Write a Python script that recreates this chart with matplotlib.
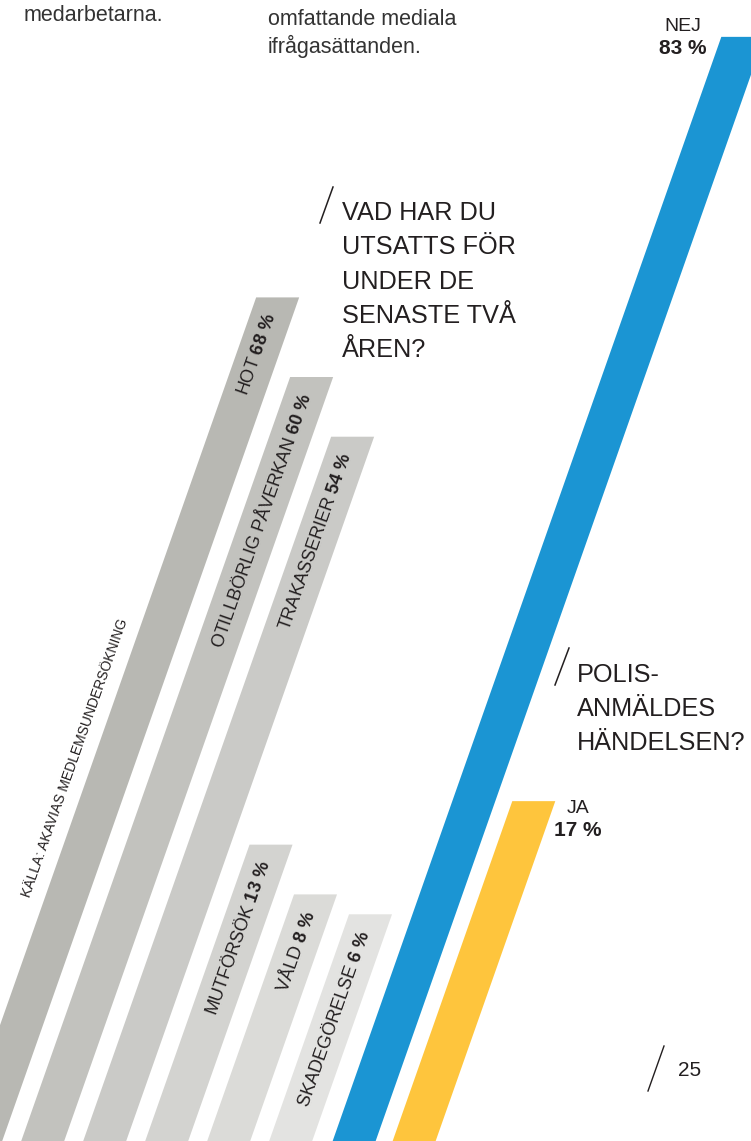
import numpy as np
import matplotlib.pyplot as plt
from matplotlib.transforms import Affine2D

plt.rcParams['font.family'] = ['Liberation Sans', 'DejaVu Sans']
plt.rcParams['mathtext.fontset'] = 'custom'
plt.rcParams['mathtext.rm'] = 'Liberation Sans'
plt.rcParams['mathtext.bf'] = 'Liberation Sans:bold'

# data
incident_types = ['HOT', 'OTILLBÖRLIG PÅVERKAN', 'TRAKASSERIER',
                  'MUTFÖRSÖK', 'VÅLD', 'SKADEGÖRELSE']
incident_pct = [68, 60, 54, 13, 8, 6]
report_answers = ['NEJ', 'JA']
report_pct = [83, 17]

title_1 = ['VAD HAR DU', 'UTSATTS FÖR', 'UNDER DE', 'SENASTE TVÅ', 'ÅREN?']
title_2 = ['POLIS-', 'ANMÄLDES', 'HÄNDELSEN?']
source = 'KÄLLA: AKAVIAS MEDLEMSUNDERSÖKNING'

grays = ['#b8b8b3', '#c2c2be', '#cacac7', '#d3d3d0', '#dbdbd8', '#e3e3e1']
report_colors = ['#1b95d3', '#fec53d']
TXT = '#231f20'

W, H = 751, 1141
SLANT = 0.352  # px sideways per px upwards
ANG = np.degrees(np.arctan2(1, SLANT))

fig = plt.figure(figsize=(W / 100, H / 100), dpi=100)

# page axes in pixel units for the free text
page = fig.add_axes([0, 0, 1, 1])
page.set_xlim(0, W)
page.set_ylim(H, 0)
page.axis('off')


def chart_axes(base_px, px_per_pct):
    # value axis in %, x in pixels, bars leaning by a skew
    ax = fig.add_axes([0, 0, 1, 1])
    ax.set_xlim(0, W)
    ax.set_ylim((base_px - H) / px_per_pct, base_px / px_per_pct)
    ax.axis('off')
    skew = Affine2D().skew(np.arctan(SLANT * px_per_pct), 0)
    return ax, skew + ax.transData


# chart 1: what have you been exposed to
ax1, tr1 = chart_axes(974, 9.95)
lo1 = ax1.get_ylim()[0] - 5
x1 = 18 + 62 * np.arange(len(incident_pct))
ax1.bar(x1, np.array(incident_pct) - lo1, bottom=lo1, width=43,
        align='edge', color=grays, transform=tr1)
for xi, name, v in zip(x1, incident_types, incident_pct):
    ax1.text(xi + 21.5, v - 1.6, name + r' $\mathbf{' + str(v) + r'\ \%}$',
             transform=tr1, rotation=ANG, rotation_mode='anchor',
             ha='right', va='center', fontsize=13, color=TXT)

# chart 2: was it reported to the police
ax2, tr2 = chart_axes(998, 11.58)
lo2 = ax2.get_ylim()[0] - 5
x2 = 383 + 60 * np.arange(len(report_pct))
ax2.bar(x2, np.array(report_pct) - lo2, bottom=lo2, width=43,
        align='edge', color=report_colors, transform=tr2)

# answer labels
for (cx, y0), ans, v in zip([(683, 31), (578, 813)], report_answers, report_pct):
    page.text(cx, y0, ans, ha='center', va='baseline', fontsize=14, color=TXT)
    page.text(cx, y0 + 23, f'{v} %', ha='center', va='baseline',
              fontsize=15, fontweight='bold', color=TXT)

# questions
page.plot([320, 333], [223, 187], color=TXT, lw=1.1)
for i, line in enumerate(title_1):
    page.text(342, 220 + 34.3 * i, line, ha='left', va='baseline',
              fontsize=18.2, color=TXT)
page.plot([555, 569], [685, 648], color=TXT, lw=1.1)
for i, line in enumerate(title_2):
    page.text(577, 682 + 34 * i, line, ha='left', va='baseline',
              fontsize=18.2, color=TXT)

# source along the first bar
page.text(75, 758, source, rotation=ANG, rotation_mode='anchor',
          ha='center', va='center', fontsize=10, color=TXT)

# running text from the page above
page.text(24, 21, 'medarbetarna.', ha='left', va='baseline',
          fontsize=15.5, color='#333333')
page.text(268, 25, 'omfattande mediala', ha='left', va='baseline',
          fontsize=15.5, color='#333333')
page.text(268, 53, 'ifrågasättanden.', ha='left', va='baseline',
          fontsize=15.5, color='#333333')

# page number
page.plot([648, 664], [1091, 1046], color=TXT, lw=1.0)
page.text(678, 1076, '25', ha='left', va='baseline', fontsize=15, color=TXT)

plt.savefig('out.png', dpi=100)
